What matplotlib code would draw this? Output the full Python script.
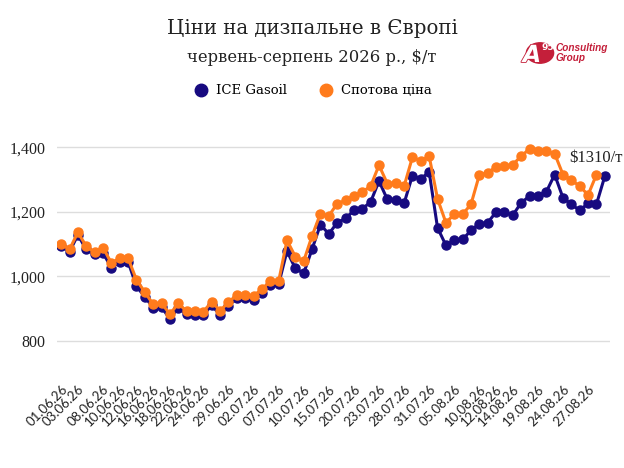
import matplotlib.pyplot as plt
import pandas as pd
import matplotlib.patheffects as pe
from matplotlib.lines import Line2D
from matplotlib.patches import Circle

# business days, 01.06.26 - 31.08.26
dates = pd.bdate_range("2026-06-01", "2026-08-31")

ice_gasoil = [1094, 1076, 1128, 1083, 1068, 1072, 1027, 1045, 1045, 969,
              936, 903, 905, 867, 903, 882, 880, 880, 910, 880,
              908, 932, 932, 927, 947, 972, 975, 1078, 1024, 1009,
              1084, 1160, 1131, 1166, 1179, 1204, 1209, 1230, 1295, 1238,
              1236, 1226, 1312, 1302, 1323, 1150, 1096, 1111, 1114, 1142,
              1163, 1166, 1199, 1199, 1189, 1228, 1248, 1250, 1261, 1315,
              1243, 1223, 1204, 1226, 1223, 1310]

spot_price = [1101, 1083, 1136, 1093, 1074, 1089, 1041, 1056, 1056, 989,
              951, 913, 917, 882, 916, 891, 891, 890, 921, 893,
              919, 942, 942, 939, 960, 984, 984, 1111, 1061, 1047,
              1125, 1194, 1187, 1225, 1235, 1250, 1261, 1279, 1344, 1287,
              1290, 1279, 1369, 1357, 1372, 1240, 1166, 1192, 1192, 1223,
              1314, 1321, 1339, 1341, 1346, 1372, 1395, 1388, 1388, 1380,
              1315, 1298, 1279, 1252, 1315]

tick_labels = ["01.06.26", "03.06.26", "08.06.26", "10.06.26", "12.06.26",
               "16.06.26", "18.06.26", "22.06.26", "24.06.26", "29.06.26",
               "02.07.26", "07.07.26", "10.07.26", "15.07.26", "20.07.26",
               "23.07.26", "28.07.26", "31.07.26", "05.08.26", "10.08.26",
               "12.08.26", "14.08.26", "19.08.26", "24.08.26", "27.08.26"]

y_ticks = [800, 1000, 1200, 1400]

NAVY = "#170a80"
ORANGE = "#ff7b1c"
RED = "#c41f3a"
SERIF = "DejaVu Serif"

date_str = [d.strftime("%d.%m.%y") for d in dates]
x_ice = list(range(len(ice_gasoil)))
x_spot = list(range(len(spot_price)))
tick_pos = [date_str.index(t) for t in tick_labels]

fig = plt.figure(figsize=(6.24, 4.68), dpi=100)
ax = fig.add_axes([0.0913, 0.203, 0.886, 0.517])

ax.plot(x_ice, ice_gasoil, color=NAVY, lw=2.2, marker="o", ms=6.5, zorder=3)
ax.plot(x_spot, spot_price, color=ORANGE, lw=2.2, marker="o", ms=6.5, zorder=4)

ax.set_xlim(-0.5, 65.6)
ax.set_ylim(700, 1450)
ax.set_yticks(y_ticks)
ax.set_yticklabels([f"{v:,}" for v in y_ticks], family="Liberation Serif",
                   fontsize=11.5)
ax.set_xticks(tick_pos)
ax.set_xticklabels(tick_labels, rotation=45, ha="right", va="top",
                   rotation_mode="anchor", family="Lato", fontsize=9.5)
ax.tick_params(axis="both", length=0, colors="#222222")
ax.tick_params(axis="y", pad=8)
ax.tick_params(axis="x", pad=7)
ax.grid(axis="y", color="#dddddd", lw=1)
ax.set_axisbelow(True)
for s in ax.spines.values():
    s.set_visible(False)

# last value label
ax.annotate(f"${ice_gasoil[-1]}/т", xy=(x_ice[-1], ice_gasoil[-1]),
            xytext=(13, 13), textcoords="offset points", ha="right",
            va="center", family="Liberation Serif", fontsize=12,
            color="#222222", annotation_clip=False)

# titles
fig.text(312 / 624, 1 - 28 / 468, "Ціни на дизпальне в Європі", ha="center",
         va="center", family=SERIF, fontsize=14.2, color="#222222")
fig.text(312 / 624, 1 - 57 / 468, "червень-серпень 2026 р., $/т", ha="center",
         va="center", family=SERIF, fontsize=11.8, color="#222222")

# legend
handles = [Line2D([], [], ls="", marker="o", ms=9, color=NAVY),
           Line2D([], [], ls="", marker="o", ms=9, color=ORANGE)]
fig.legend(handles, ["ICE Gasoil", "Спотова ціна"], loc="center",
           bbox_to_anchor=(310 / 624, 1 - 91 / 468), ncol=2, frameon=False,
           prop={"family": SERIF, "size": 9.5}, handletextpad=0.1,
           columnspacing=2.0)

# logo
fig.patches.append(Circle((540 / 624, 1 - 53 / 468), 0.0218,
                          transform=fig.transFigure, color=RED))
fig.text(532 / 624, 1 - 55 / 468, "A", ha="center", va="center",
         color="white", fontsize=17, weight="bold", style="italic",
         family="DejaVu Sans",
         path_effects=[pe.withStroke(linewidth=1.2, foreground=RED)])
fig.text(542 / 624, 1 - 47 / 468, "95", ha="left", va="center",
         color="white", fontsize=6.5, weight="bold", family="DejaVu Sans")
fig.text(556 / 624, 1 - 48 / 468, "Consulting", ha="left", va="center",
         color=RED, fontsize=7.2, weight="bold", style="italic",
         family="Liberation Sans")
fig.text(556 / 624, 1 - 58 / 468, "Group", ha="left", va="center",
         color=RED, fontsize=7.2, weight="bold", style="italic",
         family="Liberation Sans")

fig.savefig("out.png", dpi=100)
